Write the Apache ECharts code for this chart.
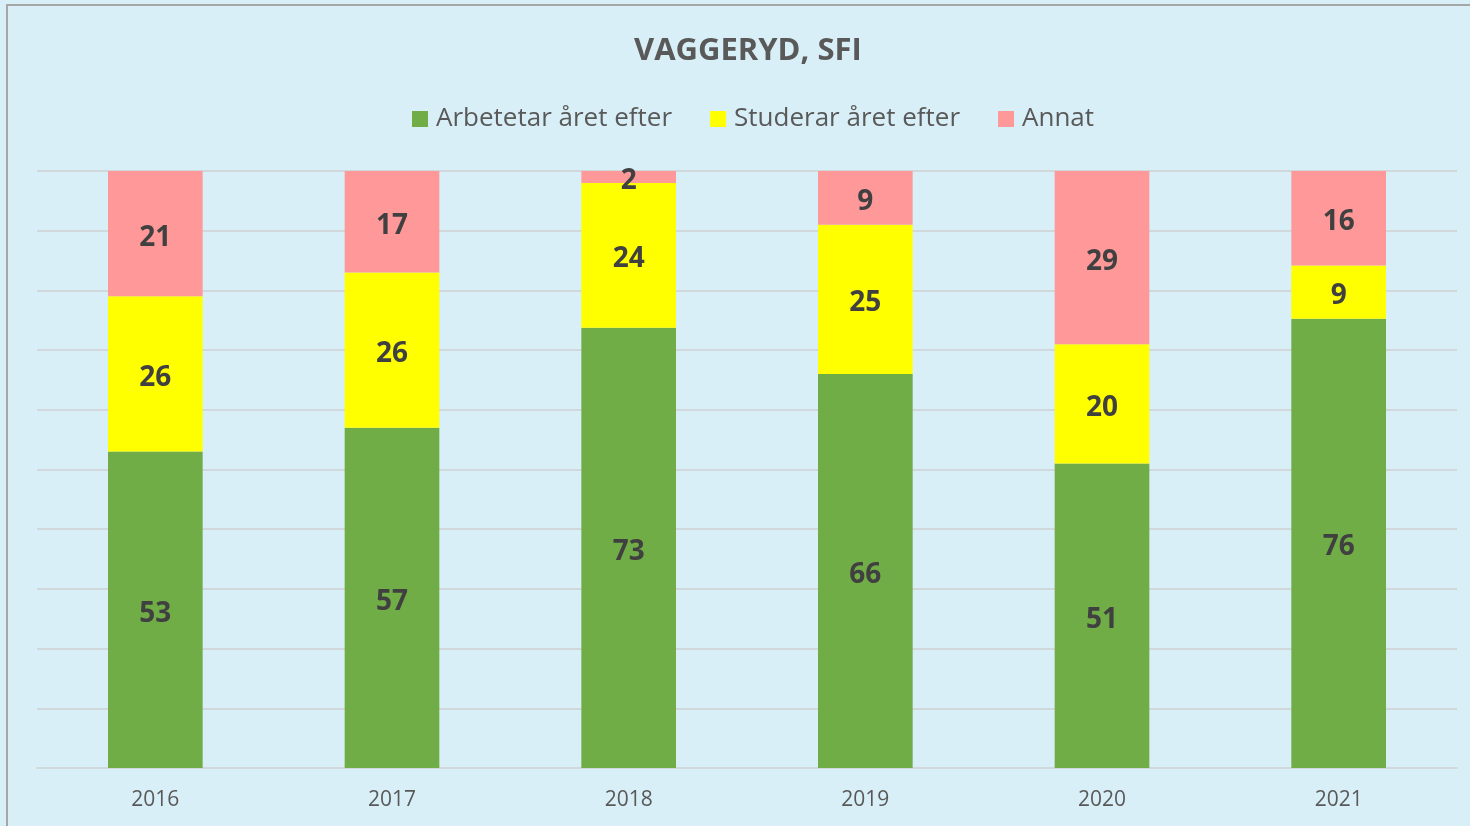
<!DOCTYPE html>
<html><head><meta charset="utf-8">
<script src="https://cdn.jsdelivr.net/npm/echarts@6/dist/echarts.min.js"></script>
<style>html,body{margin:0;padding:0;background:#d9eff7;}#c{width:1470px;height:826px;}</style>
</head><body><div id="c"></div>
<script>
var years = ['2016','2017','2018','2019','2020','2021'];
var arbetar = [53,57,73,66,51,76];
var studerar = [26,26,24,25,20,9];
var annat = [21,17,2,9,29,16];
var names = ['Arbetetar året efter','Studerar året efter','Annat'];
var colors = ['#70ad47','#ffff00','#ff9999'];

var raw = [arbetar, studerar, annat];
var totals = years.map(function(_, i){ return arbetar[i]+studerar[i]+annat[i]; });
var FONT = '"Open Sans", sans-serif';
var series = raw.map(function(arr, s){
  return {
    name: names[s], type: 'bar', stack: 'total', barWidth: '40%',
    itemStyle: {color: colors[s]},
    data: arr.map(function(v, i){ return {value: v/totals[i]*100, raw: v}; }),
    label: {show: true, position: 'inside', color: '#404040', fontFamily: FONT, fontWeight: 'bold', fontSize: 28,
      offset: [0, 4],
      formatter: function(p){ return p.data.raw; }},
    emphasis: {disabled: true}
  };
});
var chart = echarts.init(document.getElementById('c'));
chart.setOption({
  backgroundColor: '#d9eff7',
  animation: false,
  title: {text: 'VAGGERYD, SFI', left: 629, top: 31,
    textStyle: {fontFamily: FONT, fontWeight: 'bold', fontSize: 31, color: '#595959'}},
  legend: {data: names, top: 101, left: 407, itemWidth: 16, itemHeight: 16, itemGap: 38,
    icon: 'rect', textStyle: {fontFamily: FONT, fontSize: 26, color: '#595959', padding: [0, 0, 0, 3]}},
  grid: {left: 37, right: 13, top: 171, bottom: 58},
  xAxis: {type: 'category', data: years,
    axisLine: {lineStyle: {color: '#d0d8dc', width: 2}}, axisTick: {show: false},
    axisLabel: {fontFamily: FONT, fontSize: 21, color: '#595959', margin: 22}},
  yAxis: {type: 'value', min: 0, max: 100, interval: 10,
    axisLabel: {show: false}, axisLine: {show: false}, axisTick: {show: false},
    splitLine: {lineStyle: {color: '#d0d8dc', width: 2}}},
  graphic: [{type: 'rect', shape: {x: 7, y: 5, width: 1500, height: 900},
    style: {fill: 'none', stroke: '#a6a6a6', lineWidth: 2}, silent: true}],
  series: series
});
</script></body></html>
